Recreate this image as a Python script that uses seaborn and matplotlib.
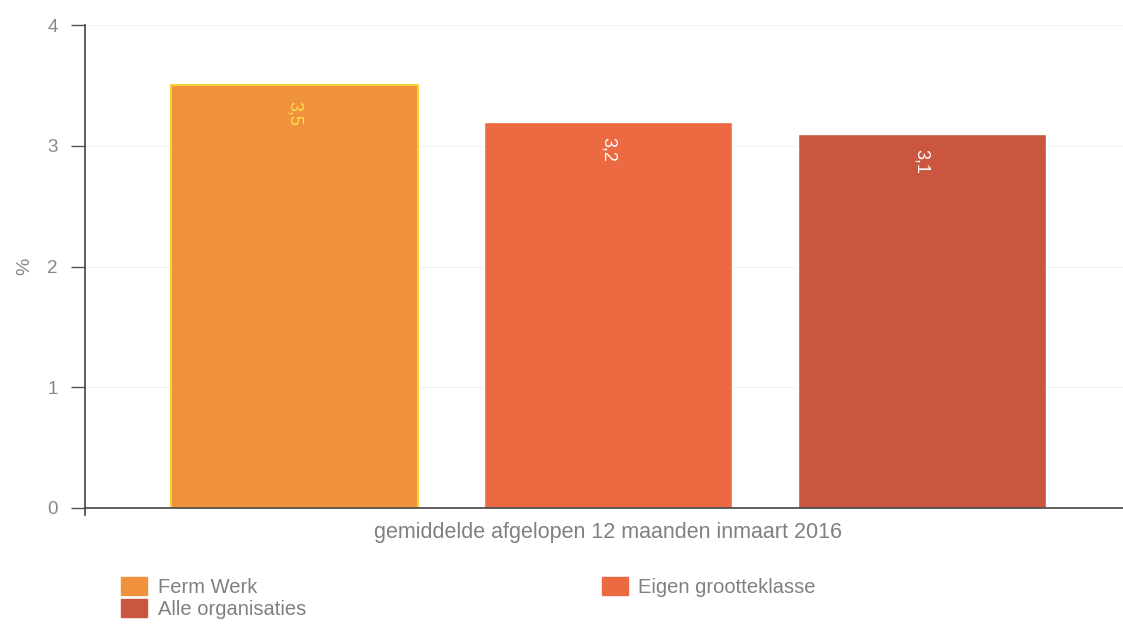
import matplotlib
matplotlib.use("Agg")
import matplotlib.pyplot as plt
import numpy as np
import pandas as pd
import seaborn as sns

period = "gemiddelde afgelopen 12 maanden inmaart 2016"
groups = ["Ferm Werk", "Eigen grootteklasse", "Alle organisaties"]
values = [3.5, 3.2, 3.1]
labels = ["3,5", "3,2", "3,1"]
colors = ["#F0913B", "#EC6A41", "#CB5640"]
label_colors = ["#F7E04A", "white", "white"]

data = pd.DataFrame({"periode": [period] * 3, "groep": groups, "waarde": values})

sns.set_style("white")
plt.rcParams["font.family"] = ["Liberation Sans", "DejaVu Sans"]

fig = plt.figure(figsize=(11.23, 6.26), dpi=100)
ax = fig.add_axes([0.076, 0.1885, 0.931, 0.7715])

sns.barplot(data=data, x="periode", y="waarde", hue="groep", hue_order=groups,
            palette=colors, width=0.9, gap=0.21, legend=False, ax=ax,
            saturation=1, errorbar=None)

# yellow edge on the first bar
bars = ax.patches[:3]
bars[0].set_edgecolor("#F5D23A")
bars[0].set_linewidth(1.5)

for bar, lab, c in zip(bars, labels, label_colors):
    ax.text(bar.get_x() + bar.get_width() / 2, bar.get_height() - 0.13, lab,
            rotation=270, ha="center", va="top", color=c, fontsize=13)

ax.set_xlim(-0.5, 0.5)
ax.set_ylim(0, 4)
ax.set_yticks([0, 1, 2, 3, 4])
ax.yaxis.grid(True, color="#f2f2f2", linewidth=0.8)
ax.set_axisbelow(True)
ax.tick_params(axis="y", length=10, width=1, color="#555555", labelcolor="#888888",
               labelsize=13.5, left=True, pad=10)
ax.tick_params(axis="x", length=0, labelsize=15.5, labelcolor="#808080", pad=10)
ax.set_ylabel("%", color="#888888", fontsize=14, labelpad=10)
ax.set_xlabel("")
sns.despine(ax=ax, top=True, right=True)
for s in ["left", "bottom"]:
    ax.spines[s].set_color("#444444")
    ax.spines[s].set_linewidth(1.2)
ax.spines["left"].set_bounds(-0.06, 4)

handles = [plt.Rectangle((0, 0), 1, 1, color=c) for c in colors]
order = [0, 2, 1]
fig.legend([handles[i] for i in order], [groups[i] for i in order],
           loc="upper left", bbox_to_anchor=(0.108, 0.078), ncol=2, frameon=False,
           fontsize=14.5, labelcolor="#808080", handlelength=1.3, handleheight=1.0,
           handletextpad=0.5, columnspacing=14.7, labelspacing=0.1,
           borderaxespad=0, borderpad=0)

fig.savefig("out.png", dpi=100)
